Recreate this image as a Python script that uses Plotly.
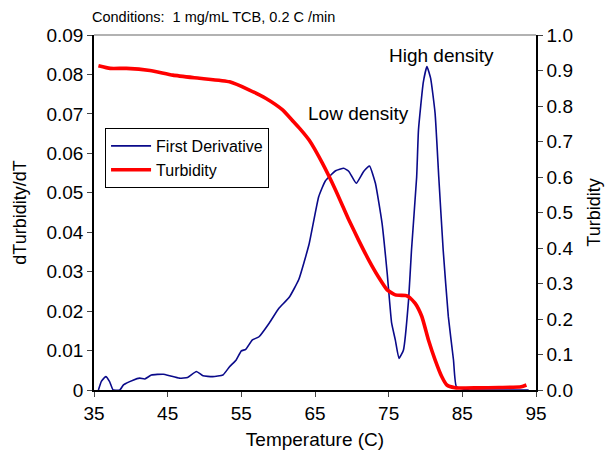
import plotly.graph_objects as go

# First derivative (left axis)
deriv_T = [35.6, 36.0, 36.6, 37.1, 37.6, 38.5, 39.0, 40.3, 41.2, 41.9, 42.8, 44.4, 45.3, 46.6, 47.7,
           48.9, 49.8, 51.1, 52.5, 53.4, 54.3, 55.0, 55.6, 56.5, 57.4, 58.8, 60.1, 61.5, 62.8,
           64.2, 65.5, 66.4, 67.8, 68.9, 69.6, 70.6, 71.6, 72.4, 73.2, 74.1, 74.8, 75.4, 75.9,
           76.4, 77.0, 77.7, 78.1, 78.8, 79.05, 79.7, 80.2, 80.7, 81.3, 81.8, 82.4, 83.1, 83.8,
           84.2, 86.0, 90.0, 94.0]
deriv_v = [0.0, 0.0022, 0.0034, 0.0022, 0.0, 0.0, 0.0013, 0.0025, 0.003, 0.0028, 0.0038, 0.0040, 0.0036,
           0.0030, 0.0032, 0.0047, 0.0036, 0.0034, 0.0038, 0.0059, 0.0076, 0.0099, 0.0103, 0.0127,
           0.0135, 0.0170, 0.0207, 0.0235, 0.0280, 0.0370, 0.0490, 0.0530, 0.0556, 0.0562, 0.0554,
           0.0524, 0.0554, 0.0568, 0.0524, 0.0423, 0.0296, 0.0170, 0.0127, 0.0080, 0.0101, 0.0228,
           0.0355, 0.0540, 0.0660, 0.0780, 0.0820, 0.0790, 0.0702, 0.0540, 0.0355, 0.0186, 0.0076,
           0.0008, 0.0, 0.0, 0.0]

# Turbidity (right axis)
turb_T = [35.6, 37.2, 39.4, 42.6, 45.7, 49.3, 53.4, 56.1, 58.3, 60.6, 61.9, 63.0, 64.2, 66.0, 67.8,
          69.6, 70.9, 72.3, 73.6, 74.8, 75.9, 77.3, 77.7, 78.6, 79.5, 80.4, 81.3, 82.2, 82.9,
          84.0, 87.0, 90.0, 93.0, 93.7]
turb_v = [0.9135, 0.906, 0.906, 0.900, 0.887, 0.878, 0.868, 0.845, 0.822, 0.789, 0.760, 0.735, 0.704,
          0.639, 0.563, 0.479, 0.423, 0.366, 0.319, 0.282, 0.268, 0.266, 0.263, 0.244, 0.207,
          0.141, 0.085, 0.038, 0.014, 0.0066, 0.006, 0.007, 0.009, 0.014]

x_ticks = [35, 45, 55, 65, 75, 85, 95]
left_ticks = [0, 0.01, 0.02, 0.03, 0.04, 0.05, 0.06, 0.07, 0.08, 0.09]
left_labels = ["0", "0.01", "0.02", "0.03", "0.04", "0.05", "0.06", "0.07", "0.08", "0.09"]
right_ticks = [0.0, 0.1, 0.2, 0.3, 0.4, 0.5, 0.6, 0.7, 0.8, 0.9, 1.0]
right_labels = ["0.0", "0.1", "0.2", "0.3", "0.4", "0.5", "0.6", "0.7", "0.8", "0.9", "1.0"]

FONT = "Liberation Sans, Arial, sans-serif"

fig = go.Figure()
fig.add_trace(go.Scatter(x=deriv_T, y=deriv_v, mode="lines", name="First Derivative",
                         line=dict(color="#0a0a8a", width=1.6, shape="spline", smoothing=0.4)))
fig.add_trace(go.Scatter(x=turb_T, y=turb_v, mode="lines", name="Turbidity", yaxis="y2",
                         line=dict(color="#ff0000", width=3.6, shape="spline", smoothing=0.5)))

fig.update_layout(
    width=611, height=450,
    margin=dict(l=94, r=75, t=35, b=60),
    paper_bgcolor="white", plot_bgcolor="white",
    font=dict(family=FONT, color="black"),
    showlegend=True,
    legend=dict(x=0.025, y=0.738, xanchor="left", yanchor="top",
                bordercolor="black", borderwidth=1, bgcolor="white",
                font=dict(size=16, family=FONT), itemwidth=40, tracegroupgap=2),
    xaxis=dict(range=[35, 95], tickvals=x_ticks, ticks="outside", ticklen=5, automargin=False,
               showline=True, linecolor="black", linewidth=1.5, showgrid=False, zeroline=False,
               tickfont=dict(size=19), title=dict(text="Temperature (C)", font=dict(size=19))),
    yaxis=dict(range=[0, 0.09], tickvals=left_ticks, ticktext=left_labels, ticks="outside", ticklen=5,
               automargin=False,
               showline=True, linecolor="black", linewidth=1.5, showgrid=False, zeroline=False,
               tickfont=dict(size=19), title=dict(text="dTurbidity/dT", font=dict(size=18))),
    yaxis2=dict(range=[0, 1.0], tickvals=right_ticks, ticktext=right_labels, overlaying="y", side="right",
                ticks="outside", ticklen=5, showline=True, linecolor="black", linewidth=1.5,
                automargin=False,
                showgrid=False, zeroline=False, tickfont=dict(size=19),
                title=dict(text="Turbidity", font=dict(size=18))),
    shapes=[dict(type="line", xref="paper", yref="paper", x0=0, x1=1, y0=1, y1=1,
                 line=dict(color="#999999", width=1.5))],
    annotations=[
        dict(text="Conditions:  1 mg/mL TCB, 0.2 C /min", xref="paper", yref="paper",
             x=-0.01, y=1.05, xanchor="left", yanchor="middle", showarrow=False,
             font=dict(size=14.5, family=FONT)),
        dict(text="Low density", x=70.9, y=0.0702, xref="x", yref="y", showarrow=False,
             font=dict(size=19, family=FONT)),
        dict(text="High density", x=82.2, y=0.0847, xref="x", yref="y", showarrow=False,
             font=dict(size=19, family=FONT)),
    ],
)

fig.write_html("out.html")
